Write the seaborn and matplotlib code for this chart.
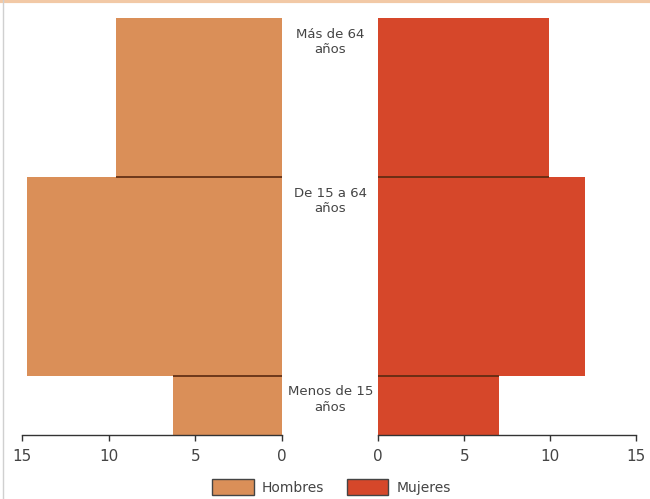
import matplotlib
matplotlib.use("Agg")
import matplotlib.pyplot as plt
import matplotlib.transforms as mtransforms
from matplotlib.patches import Patch
import seaborn as sns

# Age bands (years) and population shares (%)
age_labels = ["Menos de 15\naños", "De 15 a 64\naños", "Más de 64\naños"]
age_start = [0, 15, 65]
age_span = [15, 50, 40]
hombres = [6.3, 14.7, 9.6]
mujeres = [7.0, 12.0, 9.9]
x_ticks = [0, 5, 10, 15]

color_h = "#DA8F58"
color_m = "#D6472A"
edge_dark = "#5a2a10"

sns.set_theme(style="white")
plt.rcParams["font.family"] = ["Liberation Sans Narrow", "DejaVu Sans"]

fig = plt.figure(figsize=(6.5, 4.99), dpi=100)
ax_h = fig.add_axes([0.034, 0.128, 0.400, 0.836])
ax_m = fig.add_axes([0.582, 0.128, 0.397, 0.836])

ax_h.barh(age_start, hombres, height=age_span, align="edge", color=color_h, linewidth=0)
ax_m.barh(age_start, mujeres, height=age_span, align="edge", color=color_m, linewidth=0)

# dark line on the boundary between bands, as wide as the narrower bar
for i in range(1, len(age_start)):
    ax_h.hlines(age_start[i], 0, min(hombres[i - 1], hombres[i]), color=edge_dark, lw=1.2)
    ax_m.hlines(age_start[i], 0, min(mujeres[i - 1], mujeres[i]), color=edge_dark, lw=1.2)

top = age_start[-1] + age_span[-1]
for ax in (ax_h, ax_m):
    ax.set_ylim(0, top)
    ax.set_yticks([])
    ax.set_xticks(x_ticks)
    ax.tick_params(axis="x", direction="out", length=4, width=1, color="#333333",
                   labelsize=11, labelcolor="#444444", pad=6, bottom=True)
    sns.despine(ax=ax, left=True, top=True, right=True)
    ax.spines["bottom"].set_color("#333333")
    ax.spines["bottom"].set_linewidth(1)
ax_h.set_xlim(15, 0)
ax_m.set_xlim(0, 15)

# Age labels in the central gap
trans = mtransforms.blended_transform_factory(fig.transFigure, ax_m.transData)
for lab, s, w in zip(age_labels, age_start, age_span):
    fig.text(0.508, s + w - 2.5, lab, transform=trans, ha="center", va="top",
             fontsize=9.5, color="#444444", linespacing=1.25)

handles = [Patch(facecolor=color_h, edgecolor="#444444", label="Hombres"),
           Patch(facecolor=color_m, edgecolor="#444444", label="Mujeres")]
fig.legend(handles=handles, loc="lower center", bbox_to_anchor=(0.51, -0.018), ncol=2,
           frameon=False, fontsize=10, handlelength=3.0, handleheight=1.5,
           handletextpad=0.6, columnspacing=1.6, labelcolor="#444444")

# thin frame lines like the scanned figure
fig.add_artist(plt.Line2D([0, 1], [0.997, 0.997], color="#F2C9A6", lw=3, transform=fig.transFigure))
fig.add_artist(plt.Line2D([0.004, 0.004], [0, 1], color="#d0d0d0", lw=1, transform=fig.transFigure))

fig.savefig("out.png", dpi=100)
